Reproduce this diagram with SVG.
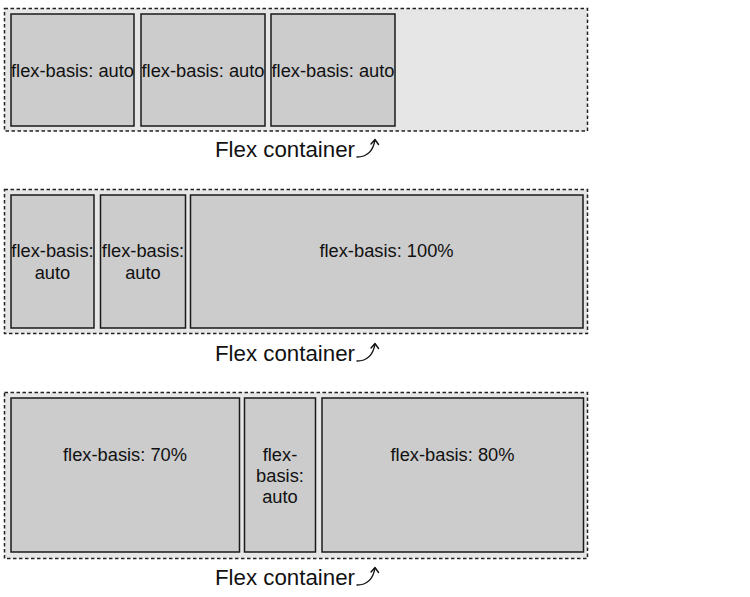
<svg xmlns="http://www.w3.org/2000/svg" width="750" height="597" viewBox="0 0 750 597">
<defs>
<style>
.container{fill:#e6e6e6;stroke:#222;stroke-width:1.5;stroke-dasharray:3.5 2.5}
.item{fill:#cccccc;stroke:#1a1a1a;stroke-width:1.5}
.t{font-family:"Liberation Sans",Arial,Helvetica,sans-serif;font-size:18.3px;fill:#111;text-anchor:middle}
.cap{font-family:"Liberation Sans",Arial,Helvetica,sans-serif;font-size:22.3px;fill:#111}
.arr{fill:none;stroke:#111;stroke-width:1.4;stroke-linecap:round;stroke-linejoin:round}
</style>
</defs>
<g id="container1">
<rect class="container" x="4.5" y="8.5" width="583" height="122.5"/>
</g>
<g id="c1-item1"><rect class="item" x="11" y="14" width="123" height="112"/><text class="t" x="72.5" y="76.5">flex-basis: auto</text></g>
<g id="c1-item2"><rect class="item" x="141" y="14" width="124" height="112"/><text class="t" x="203" y="76.5">flex-basis: auto</text></g>
<g id="c1-item3"><rect class="item" x="271" y="14" width="124" height="112"/><text class="t" x="333" y="76.5">flex-basis: auto</text></g>
<g id="caption1"><text class="cap" x="215" y="156.5">Flex container</text></g>

<g id="container2">
<rect class="container" x="4.5" y="189.5" width="583" height="144"/>
</g>
<g id="c2-item1"><rect class="item" x="11" y="195" width="83" height="133"/><text class="t" x="52.5" y="256.5">flex-basis:</text><text class="t" x="52.5" y="278.5">auto</text></g>
<g id="c2-item2"><rect class="item" x="100.5" y="195" width="85" height="133"/><text class="t" x="143" y="256.5">flex-basis:</text><text class="t" x="143" y="278.5">auto</text></g>
<g id="c2-item3"><rect class="item" x="190.5" y="195" width="392.5" height="133"/><text class="t" x="386.5" y="256.5">flex-basis: 100%</text></g>
<g id="caption2"><text class="cap" x="215" y="360.5">Flex container</text></g>

<g id="container3">
<rect class="container" x="4.5" y="392.5" width="583" height="166"/>
</g>
<g id="c3-item1"><rect class="item" x="11" y="398" width="228.5" height="154"/><text class="t" x="125" y="460.5">flex-basis: 70%</text></g>
<g id="c3-item2"><rect class="item" x="244.5" y="398" width="71" height="154"/><text class="t" x="280" y="460.5">flex-</text><text class="t" x="280" y="481.5">basis:</text><text class="t" x="280" y="502.5">auto</text></g>
<g id="c3-item3"><rect class="item" x="322" y="398" width="261.5" height="154"/><text class="t" x="452.5" y="460.5">flex-basis: 80%</text></g>
<g id="caption3"><text class="cap" x="215" y="584.5">Flex container</text></g>

<g id="connectors">
<path class="arr" d="M357 157 Q372 157 375 140 M371 144 L375 139.5 L378.5 144.5"/>
<path class="arr" d="M357 361 Q372 361 375 344 M371 348 L375 343.5 L378.5 348.5"/>
<path class="arr" d="M357 585 Q372 585 375 568 M371 572 L375 567.5 L378.5 572.5"/>
</g>
</svg>
